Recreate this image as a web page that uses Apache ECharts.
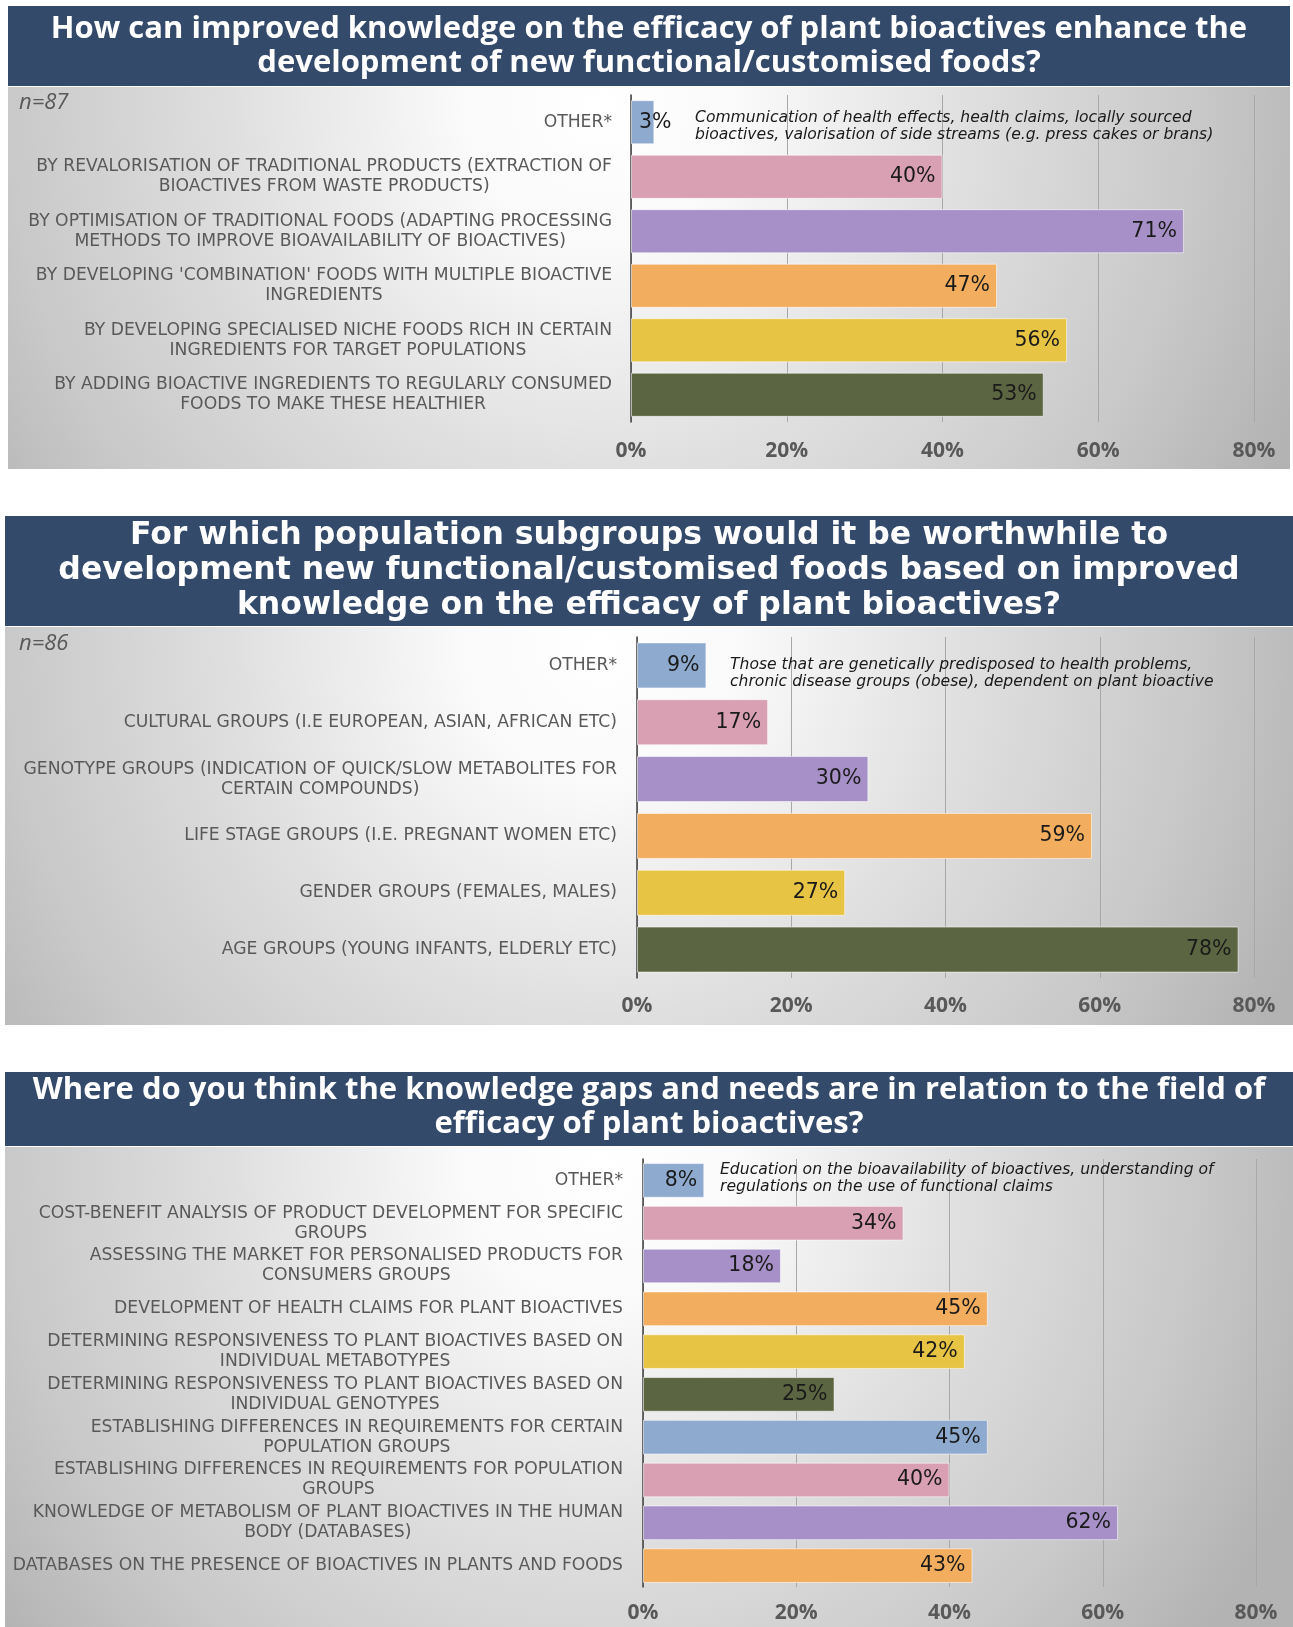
<!DOCTYPE html>
<html>
<head>
<meta charset="utf-8">
<script src="https://cdn.jsdelivr.net/npm/echarts@6/dist/echarts.min.js"></script>
<style>
html, body { margin: 0; padding: 0; background: #fff; }
#chart { width: 1293px; height: 1627px; }
</style>
</head>
<body>
<div id="chart"></div>
<script>
// ---- data ----
var title1 = 'How can improved knowledge on the efficacy of plant bioactives enhance the\ndevelopment of new functional/customised foods?';
var note1 = 'Communication of health effects, health claims, locally sourced\nbioactives, valorisation of side streams (e.g. press cakes or brans)';
var n1 = 'n=87';
var cats1 = [
	'OTHER*',
	'BY REVALORISATION OF TRADITIONAL PRODUCTS (EXTRACTION OF\nBIOACTIVES FROM WASTE PRODUCTS)',
	'BY OPTIMISATION OF TRADITIONAL FOODS (ADAPTING PROCESSING\nMETHODS TO IMPROVE BIOAVAILABILITY OF BIOACTIVES)',
	"BY DEVELOPING 'COMBINATION' FOODS WITH MULTIPLE BIOACTIVE\nINGREDIENTS",
	'BY DEVELOPING SPECIALISED NICHE FOODS RICH IN CERTAIN\nINGREDIENTS FOR TARGET POPULATIONS',
	'BY ADDING BIOACTIVE INGREDIENTS TO REGULARLY CONSUMED\nFOODS TO MAKE THESE HEALTHIER'
];
var vals1 = [3, 40, 71, 47, 56, 53];

var title2 = 'For which population subgroups would it be worthwhile to\ndevelopment new functional/customised foods based on improved\nknowledge on the efficacy of plant bioactives?';
var note2 = 'Those that are genetically predisposed to health problems,\nchronic disease groups (obese), dependent on plant bioactive';
var n2 = 'n=86';
var cats2 = [
	'OTHER*',
	'CULTURAL GROUPS (I.E EUROPEAN, ASIAN, AFRICAN ETC)',
	'GENOTYPE GROUPS (INDICATION OF QUICK/SLOW METABOLITES FOR\nCERTAIN COMPOUNDS)',
	'LIFE STAGE GROUPS (I.E. PREGNANT WOMEN ETC)',
	'GENDER GROUPS (FEMALES, MALES)',
	'AGE GROUPS (YOUNG INFANTS, ELDERLY ETC)'
];
var vals2 = [9, 17, 30, 59, 27, 78];

var title3 = 'Where do you think the knowledge gaps and needs are in relation to the field of\nefficacy of plant bioactives?';
var note3 = 'Education on the bioavailability of bioactives, understanding of\nregulations on the use of functional claims';
var cats3 = [
	'OTHER*',
	'COST-BENEFIT ANALYSIS OF PRODUCT DEVELOPMENT FOR SPECIFIC\nGROUPS',
	'ASSESSING THE MARKET FOR PERSONALISED PRODUCTS FOR\nCONSUMERS GROUPS',
	'DEVELOPMENT OF HEALTH CLAIMS FOR PLANT BIOACTIVES',
	'DETERMINING RESPONSIVENESS TO PLANT BIOACTIVES BASED ON\nINDIVIDUAL METABOTYPES',
	'DETERMINING RESPONSIVENESS TO PLANT BIOACTIVES BASED ON\nINDIVIDUAL GENOTYPES',
	'ESTABLISHING DIFFERENCES IN REQUIREMENTS FOR CERTAIN\nPOPULATION GROUPS',
	'ESTABLISHING DIFFERENCES IN REQUIREMENTS FOR POPULATION\nGROUPS',
	'KNOWLEDGE OF METABOLISM OF PLANT BIOACTIVES IN THE HUMAN\nBODY (DATABASES)',
	'DATABASES ON THE PRESENCE OF BIOACTIVES IN PLANTS AND FOODS'
];
var vals3 = [8, 34, 18, 45, 42, 25, 45, 40, 62, 43];

var xTicks = [0, 20, 40, 60, 80];
var palette = ['#8eaacf', '#d8a0b2', '#a690c7', '#f2ae5e', '#e8c444', '#5c6541'];

// ---- layout ----
var panels = [
	{ banner: [8, 6, 1282, 80], bg: [8, 87, 1282, 382], titleTop: 12, titleFont: 'bold 31px "Open Sans"', titleLh: 34,
	  grid: { left: 631, top: 95, width: 623, height: 327 }, labMargin: 19, xMargin: 19,
	  note: [695, 109], nPos: [19, 103], title: title1, note_t: note1, n: n1, cats: cats1, vals: vals1 },
	{ banner: [5, 516, 1288, 110], bg: [5, 627, 1288, 398], titleTop: 518, titleFont: 'bold 31.5px "DejaVu Sans"', titleLh: 35,
	  grid: { left: 637, top: 637, width: 617, height: 341 }, labMargin: 20, xMargin: 18,
	  note: [730, 656], nPos: [19, 644], title: title2, note_t: note2, n: n2, cats: cats2, vals: vals2 },
	{ banner: [5, 1072, 1288, 74], bg: [5, 1147, 1288, 480], titleTop: 1073, titleFont: 'bold 31px "Open Sans"', titleLh: 34,
	  grid: { left: 643, top: 1159, width: 613, height: 428 }, labMargin: 20, xMargin: 16,
	  note: [720, 1161], nPos: null, title: title3, note_t: note3, n: null, cats: cats3, vals: vals3 }
];

var chart = echarts.init(document.getElementById('chart'));

var graphics = [], grids = [], xAxes = [], yAxes = [], series = [];

panels.forEach(function (p, k) {
	var b = p.bg;
	graphics.push({
		type: 'rect', z: -10,
		shape: { x: b[0], y: b[1], width: b[2], height: b[3] },
		style: {
			fill: {
				type: 'radial', global: true, x: 600, y: b[1] + 20, r: 760,
				colorStops: [
					{ offset: 0, color: '#ffffff' },
					{ offset: 0.18, color: '#fafafa' },
					{ offset: 0.5, color: '#dedede' },
					{ offset: 0.78, color: '#c9c9c9' },
					{ offset: 1, color: '#b3b3b3' }
				]
			}
		}
	});
	graphics.push({
		type: 'rect', z: -9,
		shape: { x: p.banner[0], y: p.banner[1], width: p.banner[2], height: p.banner[3] },
		style: { fill: '#344a6a' }
	});
	graphics.push({
		type: 'text', z: 10,
		style: {
			text: p.title, x: 649, y: p.titleTop, fill: '#ffffff', font: p.titleFont,
			lineHeight: p.titleLh, align: 'center', verticalAlign: 'top', textAlign: 'center', textVerticalAlign: 'top'
		}
	});
	graphics.push({
		type: 'text', z: 10,
		style: {
			text: p.note_t, x: p.note[0], y: p.note[1], fill: '#1a1a1a',
			font: 'oblique 15.6px "DejaVu Sans"', lineHeight: 17.5,
			align: 'left', verticalAlign: 'top', textAlign: 'left', textVerticalAlign: 'top'
		}
	});
	if (p.n) {
		graphics.push({
			type: 'text', z: 10,
			style: {
				text: p.n, x: p.nPos[0], y: p.nPos[1], fill: '#595959', font: 'italic 22px "Open Sans"',
				align: 'left', verticalAlign: 'middle', textAlign: 'left', textVerticalAlign: 'middle'
			}
		});
	}

	grids.push(p.grid);
	xAxes.push({
		type: 'value', gridIndex: k, min: xTicks[0], max: xTicks[xTicks.length - 1], interval: 20,
		axisLine: { show: false }, axisTick: { show: false },
		splitLine: { show: true, lineStyle: { color: '#a8a8a8', width: 1 } },
		axisLabel: { formatter: '{value}%', margin: p.xMargin, color: '#595959', fontFamily: 'Open Sans', fontWeight: 'bold', fontSize: 21 }
	});
	yAxes.push({
		type: 'category', gridIndex: k, inverse: true, data: p.cats,
		axisLine: { show: true, lineStyle: { color: '#404040', width: 1.5 } },
		axisTick: { show: false },
		axisLabel: {
			margin: p.labMargin, align: 'right',
			formatter: function (v) {
				return v.split('\n').map(function (s) { return '{c|' + s + '}'; }).join('\n');
			},
			rich: { c: { align: 'center', fontFamily: 'DejaVu Sans', fontSize: 17.2, color: '#595959', lineHeight: 20 } }
		}
	});
	series.push({
		type: 'bar', xAxisIndex: k, yAxisIndex: k, barCategoryGap: '19%',
		data: p.vals.map(function (v, i) {
			var d = { value: v, itemStyle: { color: palette[i % palette.length] } };
			if (v < 5) d.label = { position: 'insideLeft', distance: 8 };
			return d;
		}),
		itemStyle: { borderColor: 'rgba(255,255,255,0.55)', borderWidth: 1 },
		label: {
			show: true, position: 'insideRight', distance: 7, formatter: '{c}%',
			fontFamily: 'DejaVu Sans', fontSize: 20.5, color: '#1a1a1a'
		}
	});
});

chart.setOption({
	animation: false,
	graphic: graphics,
	grid: grids,
	xAxis: xAxes,
	yAxis: yAxes,
	series: series
});
</script>
</body>
</html>
